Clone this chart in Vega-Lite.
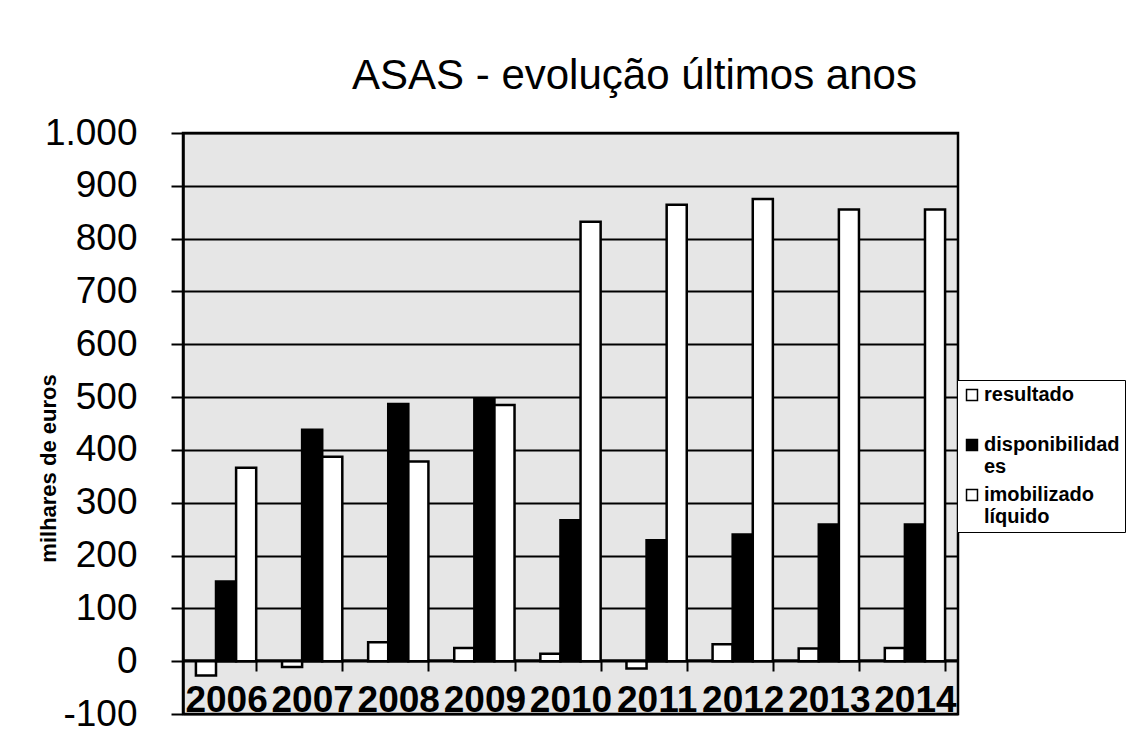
{
  "$schema": "https://vega.github.io/schema/vega-lite/v6.json",
  "width": 775,
  "height": 581,
  "autosize": "none",
  "padding": {"left": 183, "top": 133, "right": 178, "bottom": 39},
  "background": "white",
  "title": {
    "text": "ASAS - evolução últimos anos",
    "anchor": "start",
    "frame": "group",
    "dx": 169,
    "offset": 16,
    "font": "Liberation Sans",
    "fontSize": 42,
    "fontWeight": "normal",
    "color": "black"
  },
  "data": {
    "values": [
      {"ano": "2006", "serie": "resultado", "valor": -27},
      {"ano": "2006", "serie": "disponibilidades", "valor": 151},
      {"ano": "2006", "serie": "imobilizado líquido", "valor": 366},
      {"ano": "2007", "serie": "resultado", "valor": -11},
      {"ano": "2007", "serie": "disponibilidades", "valor": 438},
      {"ano": "2007", "serie": "imobilizado líquido", "valor": 387},
      {"ano": "2008", "serie": "resultado", "valor": 36},
      {"ano": "2008", "serie": "disponibilidades", "valor": 487},
      {"ano": "2008", "serie": "imobilizado líquido", "valor": 378},
      {"ano": "2009", "serie": "resultado", "valor": 25},
      {"ano": "2009", "serie": "disponibilidades", "valor": 497},
      {"ano": "2009", "serie": "imobilizado líquido", "valor": 485},
      {"ano": "2010", "serie": "resultado", "valor": 14},
      {"ano": "2010", "serie": "disponibilidades", "valor": 267},
      {"ano": "2010", "serie": "imobilizado líquido", "valor": 832},
      {"ano": "2011", "serie": "resultado", "valor": -14},
      {"ano": "2011", "serie": "disponibilidades", "valor": 229},
      {"ano": "2011", "serie": "imobilizado líquido", "valor": 864},
      {"ano": "2012", "serie": "resultado", "valor": 32},
      {"ano": "2012", "serie": "disponibilidades", "valor": 240},
      {"ano": "2012", "serie": "imobilizado líquido", "valor": 875},
      {"ano": "2013", "serie": "resultado", "valor": 24},
      {"ano": "2013", "serie": "disponibilidades", "valor": 259},
      {"ano": "2013", "serie": "imobilizado líquido", "valor": 855},
      {"ano": "2014", "serie": "resultado", "valor": 25},
      {"ano": "2014", "serie": "disponibilidades", "valor": 259},
      {"ano": "2014", "serie": "imobilizado líquido", "valor": 855}
    ]
  },
  "mark": {"type": "bar", "stroke": "black", "strokeWidth": 2.5},
  "encoding": {
    "x": {
      "field": "ano",
      "type": "ordinal",
      "scale": {"paddingInner": 0.3, "paddingOuter": 0.15},
      "axis": {
        "title": null,
        "labelAngle": 0,
        "offset": -54,
        "domainColor": "black",
        "domainWidth": 2.5,
        "tickColor": "black",
        "tickWidth": 2,
        "tickSize": 11,
        "tickBand": "extent",
        "labelPadding": 11,
        "labelFont": "Liberation Sans",
        "labelFontSize": 37,
        "labelFontWeight": "bold",
        "labelColor": "black"
      }
    },
    "xOffset": {
      "field": "serie",
      "type": "nominal",
      "sort": ["resultado", "disponibilidades", "imobilizado líquido"],
      "scale": {"paddingInner": 0, "paddingOuter": 0}
    },
    "y": {
      "field": "valor",
      "type": "quantitative",
      "scale": {"domain": [-100, 1000], "nice": false, "zero": false},
      "axis": {
        "title": "milhares de euros",
        "values": [-100, 0, 100, 200, 300, 400, 500, 600, 700, 800, 900, 1000],
        "labelExpr": "datum.value == 1000 ? '1.000' : toString(datum.value)",
        "grid": true,
        "gridColor": "black",
        "gridWidth": 2,
        "gridOpacity": 1,
        "domainColor": "black",
        "domainWidth": 2.5,
        "tickColor": "black",
        "tickWidth": 2,
        "tickSize": 12,
        "labelPadding": 34,
        "labelFont": "Liberation Sans",
        "labelFontSize": 37,
        "labelFontWeight": "normal",
        "labelColor": "black",
        "titleFont": "Liberation Sans",
        "titleFontSize": 22,
        "titleFontWeight": "bold",
        "titleColor": "black",
        "titleAngle": -90,
        "titleX": -135,
        "titleY": 335,
        "titleAlign": "center",
        "titleBaseline": "middle"
      }
    },
    "fill": {
      "field": "serie",
      "type": "nominal",
      "sort": ["resultado", "disponibilidades", "imobilizado líquido"],
      "scale": {
        "domain": ["resultado", "disponibilidades", "imobilizado líquido"],
        "range": ["white", "black", "white"]
      },
      "legend": {
        "title": null,
        "orient": "none",
        "legendX": 774,
        "legendY": 247,
        "symbolType": "square",
        "symbolSize": 120,
        "symbolStrokeColor": "black",
        "symbolStrokeWidth": 1.5,
        "labelFont": "Liberation Sans",
        "labelFontSize": 20,
        "labelFontWeight": "bold",
        "labelColor": "black",
        "labelExpr": "datum.label == 'disponibilidades' ? ['disponibilidad    ', 'es'] : datum.label == 'imobilizado líquido' ? ['imobilizado', 'líquido'] : ['resultado', ' ']",
        "labelLimit": 300,
        "labelOffset": 2,
        "rowPadding": 8,
        "strokeColor": "black",
        "fillColor": "white",
        "padding": 5,
        "cornerRadius": 0
      }
    }
  },
  "config": {
    "view": {"fill": "#e6e6e6", "stroke": "black", "strokeWidth": 2.5}
  }
}
